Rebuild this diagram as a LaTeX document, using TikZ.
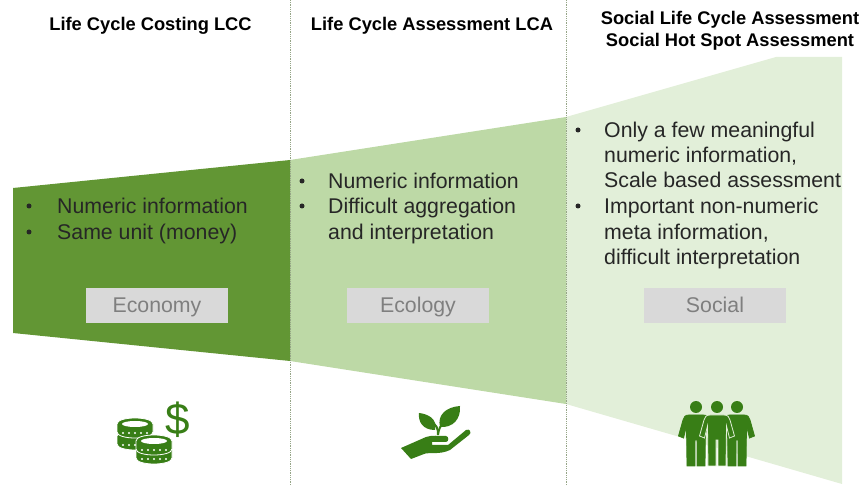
\documentclass[tikz,border=0pt]{standalone}
\usepackage{fontspec}
\setmainfont{Liberation Sans}
\usepackage{xcolor}
\usetikzlibrary{positioning}
\usetikzlibrary{calc}
\definecolor{DarkLeaf}{RGB}{98,150,52}
\definecolor{MidLeaf}{RGB}{189,217,166}
\definecolor{PaleLeaf}{RGB}{226,239,217}
\definecolor{IconGreen}{RGB}{56,126,22}
\definecolor{BoxGrey}{RGB}{217,217,217}
\definecolor{BoxText}{RGB}{127,127,127}
\definecolor{BodyText}{RGB}{38,38,38}
\definecolor{DividerGrey}{RGB}{150,165,135}
\tikzset{
    heading/.style={font=\fontsize{18.3}{22}\selectfont\bfseries, text=black, align=center, inner sep=0pt},
    bodyline/.style={font=\fontsize{21.3}{24}\selectfont, text=BodyText, anchor=base west, inner sep=0pt},
    bulletdot/.style={circle, fill=BodyText, inner sep=0pt, minimum size=5pt},
    pillarbox/.style={fill=BoxGrey, text=BoxText, minimum width=142pt, minimum height=35pt, inner sep=0pt, text height=17pt, text depth=2pt, font=\fontsize{21.3}{24}\selectfont},
    divider/.style={densely dotted, draw=DividerGrey, line width=0.8pt}
}
\begin{document}
\begin{tikzpicture}[x=1pt,y=-1pt]
    \useasboundingbox (0,0) rectangle (863,486);
    % wedges
    \fill[PaleLeaf] (566,117) -- (776,57) -- (842,57) -- (842,484) -- (566,404) -- cycle;
    \fill[MidLeaf] (290,160) -- (566,117) -- (566,404) -- (290,361) -- cycle;
    \fill[DarkLeaf] (13,188) -- (290,160) -- (290,361) -- (13,333) -- cycle;
    % dividers
    \coordinate (divAtop) at (290,0);
    \coordinate (divAbot) at (290,486);
    \coordinate (divBtop) at (566,0);
    \coordinate (divBbot) at (566,486);
    \draw[divider] (divAtop) -- (divAbot);
    \draw[divider] (divBtop) -- (divBbot);
    % headings
    \node[heading] (headLCC) at (150.5,26) {Life Cycle Costing LCC};
    \node[heading] (headLCA) at (432,26) {Life Cycle Assessment LCA};
    \node[heading] (headSoc) at (730,31) {Social Life Cycle Assessment\\Social Hot Spot Assessment};
    % text lines
    \foreach \n/\x/\y/\t in {a/57/214/Numeric information, b/57/240/Same unit (money),
        c/328/189/Numeric information, d/328/214/Difficult aggregation, e/328/240/and interpretation,
        f/604/138/Only a few meaningful, g/604/163/{numeric information,}, h/604/188/Scale based assessment,
        i/604/214/Important non-numeric, j/604/240/{meta information,}, k/604/265/difficult interpretation} {
        \node[bodyline] (line\n) at (\x,\y) {\t};
    }
    \foreach \n/\x/\y in {a/29/206, b/29/232, c/302/181, d/302/206, f/578/130, i/578/206} {
        \node[bulletdot] (dot\n) at (\x,\y) {};
    }
    % boxes
    \node[pillarbox] (boxEconomy) at (157,305.5) {Economy};
    \node[pillarbox] (boxEcology) at (418,305.5) {Ecology};
    \node[pillarbox] (boxSocial) at (715,305.5) {Social};
    % coins
    \begin{scope}[shift={(90,390)}]
        \foreach \cx/\cy/\hollow in {45/46/0, 45/34/1, 64/60/0, 64/51/1} {
            \filldraw[fill=IconGreen, draw=white, line width=0.8pt] (\cx-18,\cy) -- (\cx-18,\cy+8) .. controls (\cx-18,\cy+16) and (\cx+18,\cy+16) .. (\cx+18,\cy+8) -- (\cx+18,\cy) .. controls (\cx+18,\cy-8) and (\cx-18,\cy-8) .. (\cx-18,\cy) -- cycle;
            \foreach \d in {-12,-6,0,6,12} {
                \fill[white] (\cx+\d,\cy+9) circle (1.1);
            }
            \ifnum\hollow=1
                \fill[white] (\cx,\cy) ellipse[x radius=13, y radius=3];
            \fi
        }
        \node[font=\fontsize{44}{44}\selectfont, text=IconGreen, inner sep=0pt] (dollar) at (88,30) {\$};
    \end{scope}
    % hand with plant
    \begin{scope}[shift={(380,390)}]
        \fill[IconGreen] (21,58) -- (46,47) .. controls (52,45) and (58,46) .. (66,46) .. controls (69,46) and (69,52) .. (66,52) -- (52,52) -- (52,55) -- (68,55) -- (86,40) .. controls (90,38) and (92,43) .. (89,45)
            -- (70,60) .. controls (60,65) and (48,62) .. (44,64) -- (31,69) -- cycle;
        \draw[IconGreen, line width=2pt] (58,45) .. controls (58,38) and (57,35) .. (50,31);
        \draw[IconGreen, line width=2pt] (58,45) .. controls (59,38) and (60,36) .. (65,32);
        \fill[IconGreen] (55,40) .. controls (43,40) and (38,32) .. (39,23) .. controls (48,24) and (58,29) .. (55,40) -- cycle;
        \fill[IconGreen] (60,37) .. controls (57,25) and (66,17) .. (80,16) .. controls (81,29) and (73,38) .. (60,37) -- cycle;
    \end{scope}
    % people
    \begin{scope}[shift={(660,390)}]
        \foreach \px/\c in {36/IconGreen, 77/IconGreen, 57/PaleLeaf} {
            \fill[IconGreen] (\px,17) circle (6);
            \fill[IconGreen, draw=\c, line width=0.8pt] (\px-7,25) -- (\px+7,25) .. controls (\px+11,25) and (\px+12,27) .. (\px+13,30) -- (\px+17.5,46) -- (\px+12.5,48) -- (\px+9.5,36) -- (\px+9,76) -- (\px+1,76) -- (\px+1,50) -- (\px-1,50) -- (\px-1,76) -- (\px-9,76) -- (\px-9.5,36) -- (\px-12.5,48) -- (\px-17.5,46) -- (\px-13,30) .. controls (\px-12,27) and (\px-11,25) .. (\px-7,25) -- cycle;
        }
    \end{scope}
\end{tikzpicture}
\end{document}
